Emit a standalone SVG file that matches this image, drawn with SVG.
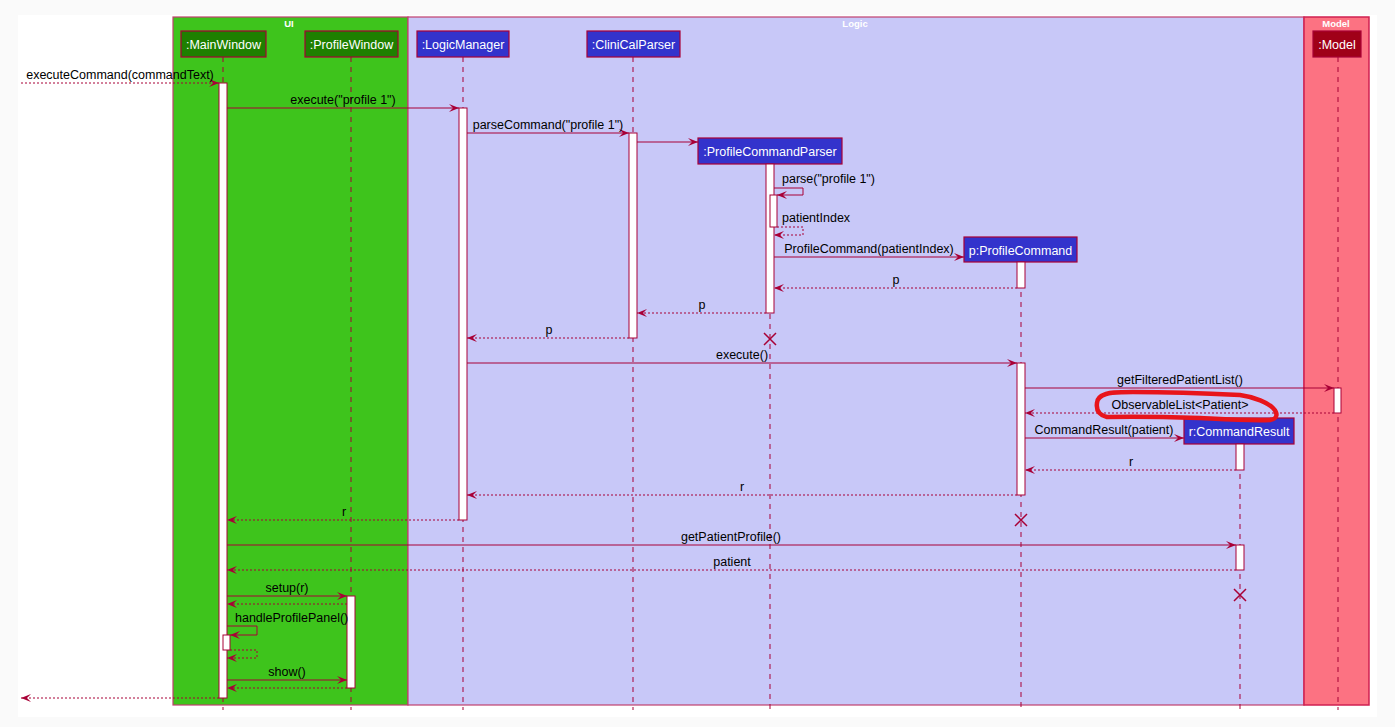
<svg xmlns="http://www.w3.org/2000/svg" width="1395" height="727" viewBox="0 0 1395 727">
<style>
text{font-family:"Liberation Sans",Arial,sans-serif;font-size:12.5px;fill:#000}
.pt{fill:#fff;text-anchor:middle}
.ft{fill:#fff;font-weight:bold;font-size:9.5px;text-anchor:middle}
.m{text-anchor:middle}
.life{stroke:#A80036;stroke-width:1;stroke-dasharray:5,5;fill:none}
.act{fill:#fff;stroke:#A80036;stroke-width:1}
.sol{stroke:#A80036;stroke-width:1;fill:none}
.dot{stroke:#A80036;stroke-width:1;stroke-dasharray:2,2;fill:none}
.pl{fill:#3333CC;stroke:#A80036;stroke-width:1.2}
.pu{fill:#1E8000;stroke:#A80036;stroke-width:1.2}
.pm{fill:#A00018;stroke:#A80036;stroke-width:1.2}
.x{stroke:#A80036;stroke-width:1.5;fill:none}
</style>
<defs>
<marker id="ah" viewBox="0 0 10 8" refX="10" refY="4" markerWidth="10" markerHeight="8" markerUnits="userSpaceOnUse" orient="auto">
<polygon points="10,4 0,0 4,4 0,8" fill="#A80036"/>
</marker>
</defs>
<rect x="0" y="0" width="1395" height="727" fill="#fafafa"/>
<rect x="18" y="15" width="1359" height="702" fill="#fff"/>
<g id="frames">
<rect x="173" y="17" width="235" height="688" fill="#3EC41C" stroke="#C0406E" stroke-width="1.2"/>
<rect x="408" y="17" width="896" height="688" fill="#C8C8F8" stroke="#C0406E" stroke-width="1.2"/>
<rect x="1304" y="17" width="65" height="688" fill="#FC7282" stroke="#D02050" stroke-width="1.5"/>
<text class="ft" x="289" y="27">UI</text>
<text class="ft" x="855" y="27">Logic</text>
<text class="ft" x="1336" y="27">Model</text>
</g>
<g id="lifelines">
<line class="life" x1="223" y1="57" x2="223" y2="710"/>
<line class="life" x1="351" y1="57" x2="351" y2="710"/>
<line class="life" x1="463" y1="57" x2="463" y2="710"/>
<line class="life" x1="633" y1="57" x2="633" y2="710"/>
<line class="life" x1="770" y1="164" x2="770" y2="710"/>
<line class="life" x1="1021" y1="262" x2="1021" y2="710"/>
<line class="life" x1="1240" y1="444" x2="1240" y2="710"/>
<line class="life" x1="1338" y1="57" x2="1338" y2="710"/>
</g>
<g id="MainWindow">
<rect class="pu" x="181" y="31" width="85" height="26"/>
<text class="pt" x="223.5" y="49">:MainWindow</text>
</g>
<g id="ProfileWindow">
<rect class="pu" x="305" y="31" width="93" height="26"/>
<text class="pt" x="351.5" y="49">:ProfileWindow</text>
</g>
<g id="LogicManager">
<rect class="pl" x="417" y="31" width="92" height="26"/>
<text class="pt" x="463" y="49">:LogicManager</text>
</g>
<g id="CliniCalParser">
<rect class="pl" x="587" y="31" width="93" height="26"/>
<text class="pt" x="633.5" y="49">:CliniCalParser</text>
</g>
<g id="ProfileCommandParser">
<rect class="pl" x="698" y="138" width="144" height="26"/>
<text class="pt" x="770" y="156">:ProfileCommandParser</text>
</g>
<g id="ProfileCommand">
<rect class="pl" x="964" y="237" width="113" height="25"/>
<text class="pt" x="1020.5" y="255">p:ProfileCommand</text>
</g>
<g id="CommandResult">
<rect class="pl" x="1184" y="418" width="110" height="26"/>
<text class="pt" x="1239" y="436">r:CommandResult</text>
</g>
<g id="Model">
<rect class="pm" x="1313" y="31" width="48" height="26"/>
<text class="pt" x="1337" y="49">:Model</text>
</g>
<g id="activations">
<rect class="act" x="219" y="83" width="8" height="615"/>
<rect class="act" x="459" y="108" width="8" height="412"/>
<rect class="act" x="629" y="133" width="8" height="205"/>
<rect class="act" x="766" y="164" width="8" height="149"/>
<rect class="act" x="770" y="195" width="7" height="32"/>
<rect class="act" x="1017" y="262" width="8" height="26"/>
<rect class="act" x="1017" y="363" width="8" height="132"/>
<rect class="act" x="1334" y="388" width="7" height="25"/>
<rect class="act" x="1236" y="444" width="8" height="26"/>
<rect class="act" x="1236" y="545" width="8" height="25"/>
<rect class="act" x="347" y="596" width="8" height="92"/>
<rect class="act" x="223" y="635" width="7" height="15"/>
</g>
<g id="connectors">
<line class="dot" x1="21" y1="83" x2="219" y2="83" marker-end="url(#ah)"/>
<line class="sol" x1="227" y1="108" x2="459" y2="108" marker-end="url(#ah)"/>
<line class="sol" x1="467" y1="133" x2="629" y2="133" marker-end="url(#ah)"/>
<line class="sol" x1="637" y1="142" x2="698" y2="142" marker-end="url(#ah)"/>
<polyline class="sol" points="774,188 803,188 803,195 777,195" marker-end="url(#ah)"/>
<polyline class="dot" points="777,227 803,227 803,235 774,235" marker-end="url(#ah)"/>
<line class="sol" x1="774" y1="257" x2="964" y2="257" marker-end="url(#ah)"/>
<line class="dot" x1="1017" y1="288" x2="774" y2="288" marker-end="url(#ah)"/>
<line class="dot" x1="766" y1="313" x2="637" y2="313" marker-end="url(#ah)"/>
<line class="dot" x1="629" y1="338" x2="467" y2="338" marker-end="url(#ah)"/>
<line class="sol" x1="467" y1="363" x2="1017" y2="363" marker-end="url(#ah)"/>
<line class="sol" x1="1025" y1="388" x2="1334" y2="388" marker-end="url(#ah)"/>
<line class="dot" x1="1334" y1="413" x2="1025" y2="413" marker-end="url(#ah)"/>
<line class="sol" x1="1025" y1="438" x2="1184" y2="438" marker-end="url(#ah)"/>
<line class="dot" x1="1236" y1="470" x2="1025" y2="470" marker-end="url(#ah)"/>
<line class="dot" x1="1017" y1="495" x2="467" y2="495" marker-end="url(#ah)"/>
<line class="dot" x1="459" y1="520" x2="227" y2="520" marker-end="url(#ah)"/>
<line class="sol" x1="227" y1="545" x2="1236" y2="545" marker-end="url(#ah)"/>
<line class="dot" x1="1236" y1="570" x2="227" y2="570" marker-end="url(#ah)"/>
<line class="sol" x1="227" y1="596" x2="347" y2="596" marker-end="url(#ah)"/>
<line class="dot" x1="347" y1="604" x2="227" y2="604" marker-end="url(#ah)"/>
<polyline class="sol" points="227,626 257,626 257,635 230,635" marker-end="url(#ah)"/>
<polyline class="dot" points="230,650 257,650 257,658 227,658" marker-end="url(#ah)"/>
<line class="sol" x1="227" y1="680" x2="347" y2="680" marker-end="url(#ah)"/>
<line class="dot" x1="347" y1="688" x2="227" y2="688" marker-end="url(#ah)"/>
<line class="dot" x1="219" y1="698" x2="21" y2="698" marker-end="url(#ah)"/>
<path class="x" d="M764,333 L776,345 M776,333 L764,345"/>
<path class="x" d="M1015,514 L1027,526 M1027,514 L1015,526"/>
<path class="x" d="M1234,589 L1246,601 M1246,589 L1234,601"/>
</g>
<g id="labels">
<text class="m" x="120" y="79">executeCommand(commandText)</text>
<text class="m" x="343" y="104">execute("profile 1")</text>
<text class="m" x="548" y="129">parseCommand("profile 1")</text>
<text x="782" y="183">parse("profile 1")</text>
<text x="782" y="222">patientIndex</text>
<text class="m" x="869" y="253">ProfileCommand(patientIndex)</text>
<text class="m" x="896" y="284">p</text>
<text class="m" x="702" y="309">p</text>
<text class="m" x="549" y="334">p</text>
<text class="m" x="742" y="359">execute()</text>
<text class="m" x="1180" y="384">getFilteredPatientList()</text>
<text class="m" x="1180" y="409">ObservableList&lt;Patient&gt;</text>
<text class="m" x="1104" y="434">CommandResult(patient)</text>
<text class="m" x="1131" y="466">r</text>
<text class="m" x="742" y="491">r</text>
<text class="m" x="344" y="516">r</text>
<text class="m" x="731" y="541">getPatientProfile()</text>
<text class="m" x="732" y="566">patient</text>
<text class="m" x="287" y="592">setup(r)</text>
<text x="235" y="622">handleProfilePanel()</text>
<text class="m" x="287" y="676">show()</text>
</g>
<g id="highlight">
<path d="M1102,396 C1106,392 1120,392 1133,392 C1160,392 1200,393 1240,395 C1255,397 1268,403 1273,408 C1278,413 1278,419 1270,420 C1250,421 1220,419 1200,418 C1170,417 1140,416 1107,417 C1099,415 1096,410 1097,403 C1097,399 1100,396 1106,394" fill="none" stroke="#E8141B" stroke-width="4.5" stroke-linecap="round" stroke-linejoin="round"/>
</g>
</svg>
